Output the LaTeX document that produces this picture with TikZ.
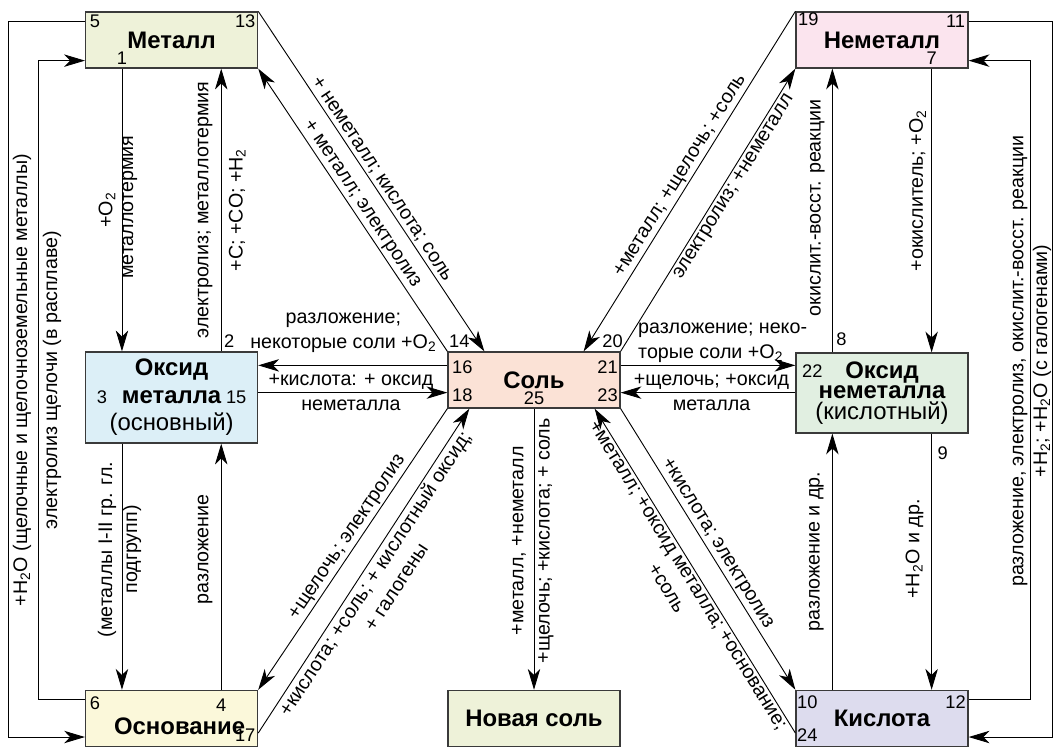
\documentclass[tikz,border=0pt]{standalone}
\usepackage{fontspec}
\setmainfont{Liberation Sans}
\usetikzlibrary{arrows.meta}

\definecolor{metalfill}{HTML}{EEF2D9}
\definecolor{nonmetalfill}{HTML}{FBE4EE}
\definecolor{oxmfill}{HTML}{DCEFF7}
\definecolor{saltfill}{HTML}{FBE2D6}
\definecolor{oxnfill}{HTML}{E1EFE1}
\definecolor{basefill}{HTML}{FBF8DA}
\definecolor{acidfill}{HTML}{DDDCEE}
\definecolor{boxline}{HTML}{3A3A3A}

\begin{document}
\begin{tikzpicture}[
  box/.style={draw=boxline, line width=0.9pt, minimum width=4.3cm, minimum height=1.4cm,
    inner sep=0pt, align=center, font={\fontsize{17}{20}\selectfont\bfseries}},
  title/.style={inner sep=0pt, font={\fontsize{17}{20}\selectfont\bfseries}},
  num/.style={inner sep=0pt, font={\fontsize{13}{15}\selectfont}},
  lbl/.style={inner sep=1.5pt, align=center, font={\fontsize{14}{18}\selectfont}},
  vlbl/.style={lbl, rotate=90},
  arr/.style={line width=0.65pt, -{Stealth[length=5.2mm,width=3.1mm,inset=1.5mm]}},
]
\useasboundingbox (0,0) rectangle (26.35,18.7);

% Вещества
\node[box, fill=metalfill] (metal) at (4.29,17.7) {Металл};
\node[box, fill=nonmetalfill] (nonmetal) at (22.05,17.7) {Неметалл};
\node[box, fill=oxmfill, minimum height=2.275cm, font={\fontsize{17}{19.5}\selectfont\bfseries}]
  (oxm) at (4.29,8.7625) {Оксид\\металла\\\mdseries(основный)};
\node[box, fill=saltfill] (salt) at (13.35,9.2) {Соль};
\node[box, fill=oxnfill, minimum height=2cm, font={\fontsize{17}{14.5}\selectfont\bfseries}]
  (oxn) at (22.05,8.875) {Оксид\\неметалла\\\mdseries(кислотный)};
\node[box, fill=basefill] (base) at (4.29,0.74) {};
\node[title] at ([shift={(0.2,-0.2)}]base.center) {Основание};
\node[box, fill=metalfill] (newsalt) at (13.35,0.74) {Новая соль};
\node[box, fill=acidfill] (acid) at (22.05,0.74) {Кислота};

% номера связей
\node[num] at ([shift={(0.25,-0.25)}]metal.north west) {5};
\node[num] at ([shift={(-0.325,-0.25)}]metal.north east) {13};
\node[num] at ([shift={(0.925,0.25)}]metal.south west) {1};
\node[num] at ([shift={(0.325,-0.2)}]nonmetal.north west) {19};
\node[num] at ([shift={(-0.325,-0.25)}]nonmetal.north east) {11};
\node[num] at ([shift={(-0.925,0.25)}]nonmetal.south east) {7};
\node[num] at ([shift={(-0.725,0.25)}]oxm.north east) {2};
\node[num] at ([shift={(0.425,0)}]oxm.west) {3};
\node[num] at ([shift={(-0.55,0)}]oxm.east) {15};
\node[num] at ([shift={(0.3,0.25)}]salt.north west) {14};
\node[num] at ([shift={(0.375,-0.4)}]salt.north west) {16};
\node[num] at ([shift={(0.375,0.325)}]salt.south west) {18};
\node[num] at ([shift={(-0.2,0.25)}]salt.north east) {20};
\node[num] at ([shift={(-0.325,-0.4)}]salt.north east) {21};
\node[num] at ([shift={(-0.325,0.325)}]salt.south east) {23};
\node[num] at ([shift={(0,0.25)}]salt.south) {25};
\node[num] at ([shift={(0.425,-0.475)}]oxn.north west) {22};
\node[num] at ([shift={(1.15,0.325)}]oxn.north west) {8};
\node[num] at ([shift={(-0.65,-0.5)}]oxn.south east) {9};
\node[num] at ([shift={(0.25,-0.325)}]base.north west) {6};
\node[num] at ([shift={(-0.925,-0.375)}]base.north east) {4};
\node[num] at ([shift={(-0.325,0.3)}]base.south east) {17};
\node[num] at ([shift={(0.3,-0.3)}]acid.north west) {10};
\node[num] at ([shift={(-0.325,-0.3)}]acid.north east) {12};
\node[num] at ([shift={(0.3,0.3)}]acid.south west) {24};

% левый столбец
\draw[arr] ([xshift=9.25mm]metal.south west) -- ([xshift=9.25mm]oxm.north west)
  node[pos=0.5, xshift=-3.75mm, vlbl] {+O\textsubscript{2}}
  node[pos=0.49, xshift=2mm, vlbl] {металлотермия};
\draw[arr] ([xshift=-9.25mm]oxm.north east) -- ([xshift=-9.25mm]metal.south east)
  node[pos=0.5, xshift=-4mm, vlbl] {электролиз; металлотермия}
  node[pos=0.5, xshift=4mm, vlbl] {+C; +CO; +H\textsubscript{2}};
\draw[arr] ([xshift=9.25mm]oxm.south west) -- ([xshift=9.25mm]base.north west)
  node[pos=0.43, xshift=-3.75mm, vlbl] {(металлы I-II гр. гл.}
  node[pos=0.43, xshift=2.5mm, vlbl] {подгрупп)};
\draw[arr] ([xshift=-9.25mm]base.north east) -- ([xshift=-9.25mm]oxm.south east)
  node[pos=0.57, xshift=-4mm, vlbl] {разложение};

% обходы слева
\coordinate (lo) at (0.2,0);
\coordinate (li) at (0.95,0);
\coordinate (m5) at ([yshift=-2.5mm]metal.north west);
\coordinate (b6) at ([yshift=2.5mm]base.south west);
\coordinate (b6i) at ([yshift=-2.5mm]base.north west);
\coordinate (m1i) at ([yshift=2mm]metal.south west);
\draw[arr] (m5) -- (m5 -| lo) -- (b6 -| lo) -- (b6);
\draw[arr] (b6i) -- (b6i -| li) -- (m1i -| li)
  node[pos=0.5, xshift=-4mm, vlbl] {+H\textsubscript{2}O (щелочные и щелочноземельные металлы)}
  node[pos=0.5, xshift=3.5mm, vlbl] {электролиз щелочи (в расплаве)}
  -- (m1i);

% правый столбец
\draw[arr] ([xshift=-9.25mm]nonmetal.south east) -- ([xshift=-9.25mm]oxn.north east)
  node[pos=0.43, xshift=-3.5mm, vlbl] {+окислитель; +O\textsubscript{2}};
\draw[arr] ([xshift=9.25mm]oxn.north west) -- ([xshift=9.25mm]nonmetal.south west)
  node[pos=0.51, xshift=-3.75mm, vlbl] {окислит.-восст. реакции};
\draw[arr] ([xshift=-9.25mm]oxn.south east) -- ([xshift=-9.25mm]acid.north east)
  node[pos=0.45, xshift=-4.25mm, vlbl] {+H\textsubscript{2}O и др.};
\draw[arr] ([xshift=9.25mm]acid.north west) -- ([xshift=9.25mm]oxn.south west)
  node[pos=0.54, xshift=-4mm, vlbl] {разложение и др.};

% обходы справа
\coordinate (ro) at (26.3,0);
\coordinate (ri) at (25.75,0);
\coordinate (n11) at ([yshift=-2.5mm]nonmetal.north east);
\coordinate (a12) at ([yshift=2.5mm]acid.south east);
\coordinate (a12i) at ([yshift=-2.5mm]acid.north east);
\coordinate (n7i) at ([yshift=2mm]nonmetal.south east);
\draw[arr] (n11) -- (n11 -| ro) -- (a12 -| ro) -- (a12);
\draw[arr] (a12i) -- (a12i -| ri) -- (n7i -| ri)
  node[pos=0.53, xshift=-2.5mm, vlbl] {разложение, электролиз, окислит.-восст. реакции}
  node[pos=0.53, xshift=3mm, vlbl] {+H\textsubscript{2}; +H\textsubscript{2}O (с галогенами)}
  -- (n7i);

% соль и оксиды
\coordinate (s1) at ([yshift=-3.5mm]salt.north west);
\coordinate (s2) at ([yshift=4mm]salt.south west);
\coordinate (s3) at ([yshift=-3.5mm]salt.north east);
\coordinate (s4) at ([yshift=4mm]salt.south east);
\draw[arr] (s1) -- (s1 -| oxm.east)
  node[pos=0.55, above=2.5mm, lbl] {разложение;\\некоторые соли +O\textsubscript{2}};
\draw[arr] (s2 -| oxm.east) -- (s2)
  node[pos=0.49, lbl] {+кислота: + оксид\\неметалла};
\draw[arr] (s3) -- (s3 -| oxn.west)
  node[pos=0, anchor=south west, xshift=3.75mm, lbl, align=left] {разложение; неко-\\торые соли +O\textsubscript{2}};
\draw[arr] (s4 -| oxn.west) -- (s4)
  node[pos=0.48, lbl] {+щелочь; +оксид\\металла};

% диагонали
\draw[arr] (metal.north east) -- ([xshift=9.25mm]salt.north west)
  node[pos=0.51, sloped, above, lbl] {+ неметалл; кислота; соль};
\draw[arr] (salt.north west) -- (metal.south east)
  node[pos=0.5, sloped, above, lbl] {+ металл; электролиз};
\draw[arr] (nonmetal.north west) -- ([xshift=-9.25mm]salt.north east)
  node[pos=0.5, sloped, above, lbl] {+металл; +щелочь; +соль};
\draw[arr] (salt.north east) -- (nonmetal.south west)
  node[pos=0.6, sloped, below, lbl] {электролиз; +неметалл};
\draw[arr] (salt.south west) -- (base.north east)
  node[pos=0.48, sloped, above, lbl] {+щелочь; электролиз};
\draw[arr] ([yshift=3.5mm]base.south east) -- ([xshift=5.5mm]salt.south west)
  node[pos=0.51, sloped, below, lbl] {+кислота; +соль; + кислотный оксид;\\+ галогены};
\draw[arr] (salt.south east) -- (acid.north west)
  node[pos=0.5, sloped, above, lbl] {+кислота; электролиз};
\draw[arr] ([yshift=3.5mm]acid.south west) -- ([xshift=-6.5mm]salt.south east)
  node[pos=0.5, sloped, below, lbl] {+металл; +оксид металла; +основание;\\+соль};

% новая соль
\draw[arr] (salt.south) -- (newsalt.north)
  node[pos=0.47, xshift=-3.75mm, vlbl] {+металл, +неметалл}
  node[pos=0.47, xshift=3mm, vlbl] {+щелочь; +кислота; + соль};

\end{tikzpicture}
\end{document}
